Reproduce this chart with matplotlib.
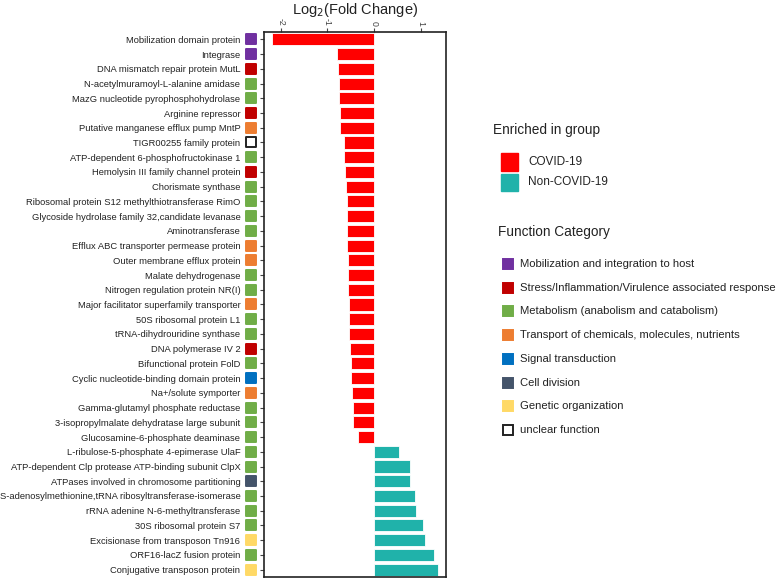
import matplotlib.pyplot as plt
from matplotlib.patches import Rectangle
from matplotlib.transforms import blended_transform_factory

plt.rcParams['font.family'] = ['Liberation Sans', 'DejaVu Sans']

# Proteins, top to bottom
proteins = [
    "Mobilization domain protein", "Integrase",
    "DNA mismatch repair protein MutL", "N-acetylmuramoyl-L-alanine amidase",
    "MazG nucleotide pyrophosphohydrolase", "Arginine repressor",
    "Putative manganese efflux pump MntP", "TIGR00255 family protein",
    "ATP-dependent 6-phosphofructokinase 1", "Hemolysin III family channel protein",
    "Chorismate synthase", "Ribosomal protein S12 methylthiotransferase RimO",
    "Glycoside hydrolase family 32,candidate levanase", "Aminotransferase",
    "Efflux ABC transporter permease protein", "Outer membrane efflux protein",
    "Malate dehydrogenase", "Nitrogen regulation protein NR(I)",
    "Major facilitator superfamily transporter", "50S ribosomal protein L1",
    "tRNA-dihydrouridine synthase", "DNA polymerase IV 2",
    "Bifunctional protein FolD", "Cyclic nucleotide-binding domain protein",
    "Na+/solute symporter", "Gamma-glutamyl phosphate reductase",
    "3-isopropylmalate dehydratase large subunit", "Glucosamine-6-phosphate deaminase",
    "L-ribulose-5-phosphate 4-epimerase UlaF",
    "ATP-dependent Clp protease ATP-binding subunit ClpX",
    "ATPases involved in chromosome partitioning",
    "S-adenosylmethionine,tRNA ribosyltransferase-isomerase",
    "rRNA adenine N-6-methyltransferase", "30S ribosomal protein S7",
    "Excisionase from transposon Tn916", "ORF16-lacZ fusion protein",
    "Conjugative transposon protein",
]

log2fc = [
    -2.18, -0.80, -0.78, -0.76, -0.75, -0.73, -0.73, -0.64, -0.64, -0.63,
    -0.60, -0.59, -0.59, -0.59, -0.58, -0.57, -0.56, -0.55, -0.54, -0.53,
    -0.53, -0.51, -0.49, -0.49, -0.48, -0.46, -0.45, -0.35,
    0.54, 0.76, 0.76, 0.87, 0.90, 1.05, 1.08, 1.28, 1.36,
]

# function category code per protein
categories = [
    "mob", "mob", "stress", "met", "met", "stress", "trans", "unclear",
    "met", "stress", "met", "met", "met", "met", "trans", "trans", "met",
    "met", "trans", "met", "met", "stress", "met", "signal", "trans",
    "met", "met", "met", "met", "met", "cell", "met", "met", "met",
    "genetic", "met", "genetic",
]

cat_keys = ["mob", "stress", "met", "trans", "signal", "cell", "genetic", "unclear"]
cat_names = [
    "Mobilization and integration to host",
    "Stress/Inflammation/Virulence associated response",
    "Metabolism (anabolism and catabolism)",
    "Transport of chemicals, molecules, nutrients",
    "Signal transduction", "Cell division", "Genetic organization",
    "unclear function",
]
cat_colors = {
    "mob": "#7030A0", "stress": "#C00000", "met": "#70AD47", "trans": "#ED7D31",
    "signal": "#0070C0", "cell": "#44546A", "genetic": "#FFD966", "unclear": "white",
}

group_names = ["COVID-19", "Non-COVID-19"]
group_colors = ["#FF0000", "#20B2AA"]

fig = plt.figure(figsize=(7.78, 5.79), dpi=100)
ax = fig.add_axes([0.3393, 0.0035, 0.2340, 0.9412])

y = list(range(len(proteins)))
bar_colors = [group_colors[0] if v < 0 else group_colors[1] for v in log2fc]
ax.barh(y, log2fc, height=0.82, color=bar_colors, edgecolor="white", linewidth=0.6)

ax.set_ylim(len(proteins) - 0.5, -0.5)
ax.set_xlim(-2.36, 1.54)
ax.set_yticks(y)
ax.set_yticklabels(proteins, fontsize=6.75, color="#222222")
ax.tick_params(axis="y", length=3, pad=14, color="#444444")
ax.xaxis.tick_top()
ax.set_xticks([-2, -1, 0, 1])
ax.set_xticklabels(["-2", "-1", "0", "1"], rotation=-90, fontsize=6.3, color="#444444")
ax.tick_params(axis="x", length=3, pad=1.5, color="#444444")
for s in ax.spines.values():
    s.set_linewidth(1.2)
    s.set_color("#222222")

W, H = 778, 579

fig.text(355 / W, 1 - 1 / H, r"Log$_2$(Fold Change)", fontsize=10.5,
         ha="center", va="top", color="#222222")

# category squares next to the labels
trans = blended_transform_factory(ax.transAxes, ax.transData)
sq_x = (251 - 264) / (446 - 264)
for yi, c in zip(y, categories):
    ec = "#222222" if c == "unclear" else cat_colors[c]
    ax.scatter(sq_x, yi, s=62, marker="s", color=cat_colors[c], edgecolor=ec,
               linewidth=1.4, joinstyle="round", transform=trans, clip_on=False)

# legend: enriched group
fig.text(493 / W, 1 - 130 / H, "Enriched in group", fontsize=9.8, va="center", color="#222222")
for i, (name, col) in enumerate(zip(group_names, group_colors)):
    yc = 162 + i * 20
    fig.patches.append(Rectangle((501 / W, 1 - (yc + 8.5) / H), 17 / W, 17 / H,
                                 transform=fig.transFigure, color=col))
    fig.text(528 / W, 1 - yc / H, name, fontsize=8.5, va="center", color="#222222")

# legend: function category
fig.text(498 / W, 1 - 232 / H, "Function Category", fontsize=9.8, va="center", color="#222222")
for i, (k, name) in enumerate(zip(cat_keys, cat_names)):
    yc = 264 + i * 23.7
    ec = "#222222" if k == "unclear" else cat_colors[k]
    fig.add_artist(plt.Line2D([507.5 / W], [1 - yc / H], marker="s", markersize=7.5,
                              markerfacecolor=cat_colors[k], markeredgecolor=ec,
                              markeredgewidth=1.4, linestyle="none",
                              transform=fig.transFigure))
    fig.text(520 / W, 1 - yc / H, name, fontsize=8.1, va="center", color="#222222")

fig.savefig("out.png", dpi=100)
